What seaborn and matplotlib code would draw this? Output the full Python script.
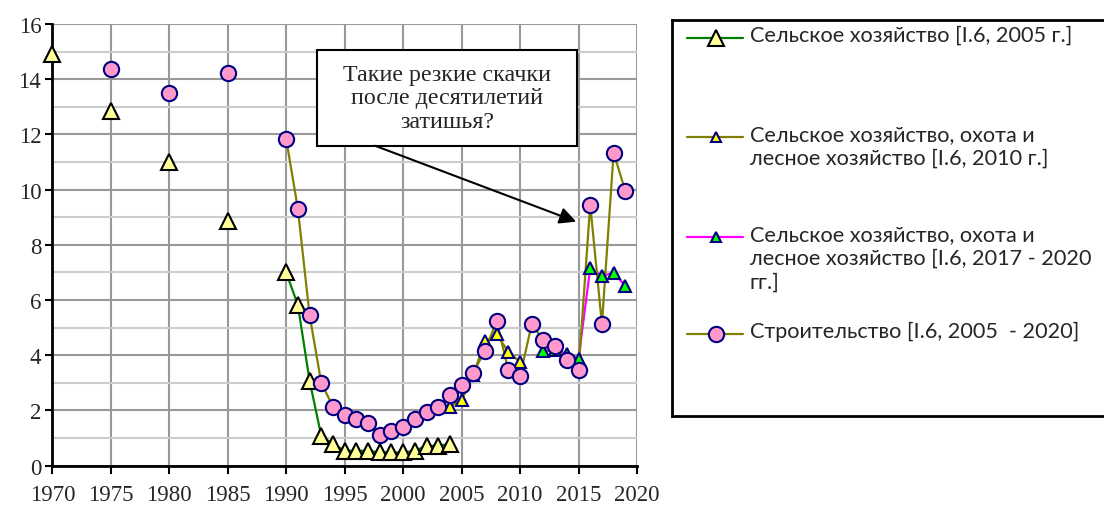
import numpy as np
import pandas as pd
import matplotlib
matplotlib.use("Agg")
import matplotlib.pyplot as plt
from matplotlib.patches import Rectangle
from matplotlib.lines import Line2D
import seaborn as sns

# Data
years_agri_2005 = [1970, 1975, 1980, 1985, 1990, 1991, 1992, 1993, 1994, 1995,
                   1996, 1997, 1998, 1999, 2000, 2001, 2002, 2003, 2004]
agri_2005 = [14.9, 12.86, 10.99, 8.88, 7.0, 5.82, 3.08, 1.08, 0.79, 0.54,
             0.54, 0.54, 0.48, 0.48, 0.48, 0.54, 0.72, 0.72, 0.79]

years_agri_2010 = [2004, 2005, 2006, 2007, 2008, 2009, 2010]
agri_2010 = [2.14, 2.37, 3.3, 4.5, 4.76, 4.12, 3.76]

years_agri_2020 = [2012, 2013, 2014, 2015, 2016, 2017, 2018, 2019]
agri_2020 = [4.15, 4.2, 4.05, 3.88, 7.16, 6.87, 6.99, 6.51]

years_constr = [1975, 1980, 1985, 1990, 1991, 1992, 1993, 1994, 1995, 1996,
                1997, 1998, 1999, 2000, 2001, 2002, 2003, 2004, 2005, 2006,
                2007, 2008, 2009, 2010, 2011, 2012, 2013, 2014, 2015, 2016,
                2017, 2018, 2019]
constr = [14.37, 13.49, 14.23, 11.84, 9.3, 5.46, 3.0, 2.14, 1.85, 1.69,
          1.55, 1.12, 1.27, 1.41, 1.69, 1.93, 2.14, 2.56, 2.94, 3.37,
          4.17, 5.24, 3.45, 3.25, 5.13, 4.54, 4.32, 3.82, 3.45, 9.46,
          5.12, 11.34, 9.95]

labels = [
    "Сельское хозяйство [I.6, 2005 г.]",
    "Сельское хозяйство, охота и\nлесное хозяйство [I.6, 2010 г.]",
    "Сельское хозяйство, охота и\nлесное хозяйство [I.6, 2017 - 2020\nгг.]",
    "Строительство [I.6, 2005  - 2020]",
]
note = "Такие резкие скачки\nпосле десятилетий\nзатишья?"

styles = [
    dict(line="#008000", face="#FFFF99", edge="black", marker="^", ms=12, lms=12),
    dict(line="#808000", face="#FFFF00", edge="#000080", marker="^", ms=8, lms=7.5),
    dict(line="#FF00FF", face="#00FF00", edge="#000080", marker="^", ms=8, lms=7.5),
    dict(line="#808000", face="#FF99CC", edge="#000080", marker="o", ms=11, lms=11),
]
series = [
    (years_agri_2005, agri_2005),
    (years_agri_2010, agri_2010),
    (years_agri_2020, agri_2020),
    (years_constr, constr),
]

sns.set_style("white")
plt.rcParams["font.family"] = ["Liberation Serif", "DejaVu Serif"]

fig = plt.figure(figsize=(11.04, 5.06), dpi=100)
ax = fig.add_axes([52.3 / 1104, 1 - 466.7 / 506, (637 - 52.3) / 1104, (466.7 - 25) / 506])

for (yrs, vals), st in zip(series, styles):
    df = pd.DataFrame({"year": yrs, "value": vals})
    # break the line where years are not consecutive (as Excel does with gaps)
    df["seg"] = (df["year"].diff() != 1).cumsum()
    sns.lineplot(data=df, x="year", y="value", units="seg", estimator=None,
                 color=st["line"], lw=1.6, ax=ax, zorder=3)
    ax.plot(df["year"], df["value"], ls="none", marker=st["marker"], ms=st["ms"],
            mfc=st["face"], mec=st["edge"], mew=1.5, zorder=4, clip_on=False)

ax.set_xlim(1970, 2020)
ax.set_ylim(0, 16)
ax.set_xticks(np.arange(1970, 2021, 5))
ax.set_yticks(np.arange(0, 17, 2))
ax.set_yticks(np.arange(1, 16, 2), minor=True)
ax.grid(axis="x", which="major", color="#999999", lw=1.5)
ax.grid(axis="y", which="major", color="#999999", lw=1.5)
ax.grid(axis="y", which="minor", color="#cccccc", lw=1.5)
ax.set_axisbelow(True)
ax.set_xlabel("")
ax.set_ylabel("")
for s in ["top", "right"]:
    ax.spines[s].set_visible(False)
for s in ["left", "bottom"]:
    ax.spines[s].set_color("black")
    ax.spines[s].set_linewidth(2)
ax.tick_params(axis="x", which="major", direction="out", length=6, width=1.5,
               color="black", labelsize=16.5, pad=7, bottom=True)
ax.tick_params(axis="y", which="major", direction="out", length=5, width=1.5,
               color="black", labelsize=16.5, pad=3, left=True)
ax.tick_params(axis="y", which="minor", length=0)

# annotation box and arrow
ax.add_patch(Rectangle((1992.6, 11.59), 22.27, 3.48, fc="white", ec="black",
                       lw=1.5, zorder=6))
ax.text(2003.75, 13.33, note, ha="center", va="center", fontsize=17.3,
        linespacing=1.15, zorder=7)
ax.annotate("", xy=(2014.8, 8.84), xytext=(1997.6, 11.59),
            arrowprops=dict(arrowstyle="-|>", color="black", lw=1.5,
                            mutation_scale=25, shrinkA=0, shrinkB=0),
            zorder=7)

# legend panel, laid out like the Excel legend
lax = fig.add_axes([671.7 / 1104, 1 - 417 / 506, 0.5, (417 - 20.5) / 506])
lax.set_xlim(0, 1)
lax.set_ylim(417 - 20.5, 0)
lax.set_xticks([])
lax.set_yticks([])
for s in lax.spines.values():
    s.set_color("black")
    s.set_linewidth(2)
entry_y = [18.5, 117.5, 217.5, 314.5]
x0, x1, xm, xt = 15 / 552, 71.6 / 552, 44.3 / 552, 78 / 552
for lab, st, yy in zip(labels, styles, entry_y):
    lax.add_line(Line2D([x0, x1], [yy, yy], color=st["line"], lw=1.6))
    lax.add_line(Line2D([xm], [yy], ls="none", marker=st["marker"], ms=st["lms"],
                        mfc=st["face"], mec=st["edge"], mew=1.5))
    lax.text(xt, yy - 13, lab, ha="left", va="top", fontsize=15.6,
             family=["Lato", "DejaVu Sans"], linespacing=1.25,
             transform=lax.transData)

fig.savefig("out.png", dpi=100)
